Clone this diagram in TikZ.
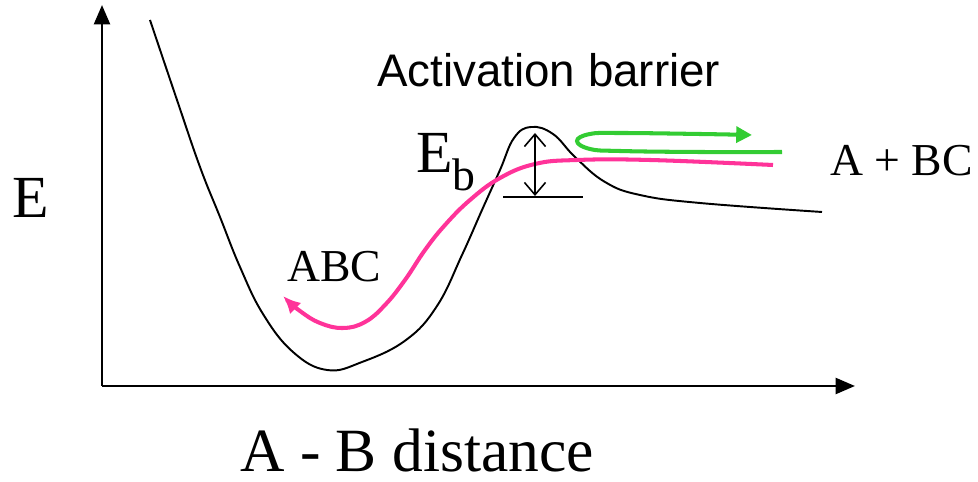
\documentclass[tikz,border=0pt]{standalone}
\usepackage{fontspec}
\setmainfont{Liberation Serif}
\newfontfamily\arialfont{Liberation Sans}
\usetikzlibrary{arrows.meta}
\definecolor{mypink}{RGB}{255, 51, 153}
\definecolor{mygreen}{RGB}{51, 204, 51}

\begin{document}
\begin{tikzpicture}[x=0.02cm, y=-0.02cm, >=Triangle]
  \useasboundingbox (0,0) rectangle (978,482);
  \tikzset{
    axis/.style={line width=1.6pt, -{Triangle[length=11pt, width=9pt]}},
    label/.style={inner sep=0pt, anchor=base west}
  }

  % Axes
  \coordinate (O) at (102,386);
  \coordinate (ytop) at (102,5);
  \coordinate (xend) at (855,386);
  \draw[axis] (O) -- (ytop);
  \draw[axis] (O) -- (xend);

  % Potential energy curve
  \draw[line width=1.1pt] plot[smooth, tension=0.7] coordinates {
    (150,20) (177,100) (200,167) (220,217) (240,267) (263,314) (293,352)
    (327,370) (362,362) (406,340) (437,306) (462,255) (482,210) (500,170)
    (514,138) (531,127) (553,134) (575,157) (605,182) (640,195) (700,203)
    (822,212)};

  % Reaction path ABC
  \draw[mypink, line width=2.3pt, {Latex[length=10pt, width=9pt]}-] plot[smooth, tension=0.7] coordinates {
    (283,296) (300,311) (320,323) (343,328) (365,322) (385,305) (405,280)
    (425,250) (445,225) (470,200) (500,178) (535,164) (577,160) (650,160)
    (773,165)};

  % Reflected path
  \draw[mygreen, line width=2.3pt, -{Triangle[length=9pt, width=9pt]}] plot[smooth, tension=0.7] coordinates {
    (782,152) (700,152) (620,151) (590,149) (577,141) (590,134) (620,133)
    (700,134) (752,135)};

  % Barrier height
  \coordinate (btop) at (535,133);
  \coordinate (bbot) at (535,196);
  \draw[line width=0.9pt, {Straight Barb[length=7pt, width=12pt]}-{Straight Barb[length=7pt, width=12pt]}] (bbot) -- (btop);
  \draw[line width=1.1pt] (503,197) -- (583,197);

  % Labels
  \node[label] (E) at (12,218) {\fontsize{34}{34}\selectfont E};
  \node[label] (Eb) at (416,173) {\fontsize{34}{34}\selectfont E\raisebox{-10pt}{\fontsize{26}{26}\selectfont b}};
  \node[label] (act) at (377,87) {\arialfont\fontsize{26}{26}\selectfont Activation barrier};
  \node[label] (abc) at (287,282) {\fontsize{26}{26}\selectfont ABC};
  \node[label] (products) at (830,176) {\fontsize{26}{26}\selectfont A + BC};
  \node[label, text depth=0pt] (dist) at (240,472) {\fontsize{35}{35}\selectfont A - B distance};
\end{tikzpicture}
\end{document}
